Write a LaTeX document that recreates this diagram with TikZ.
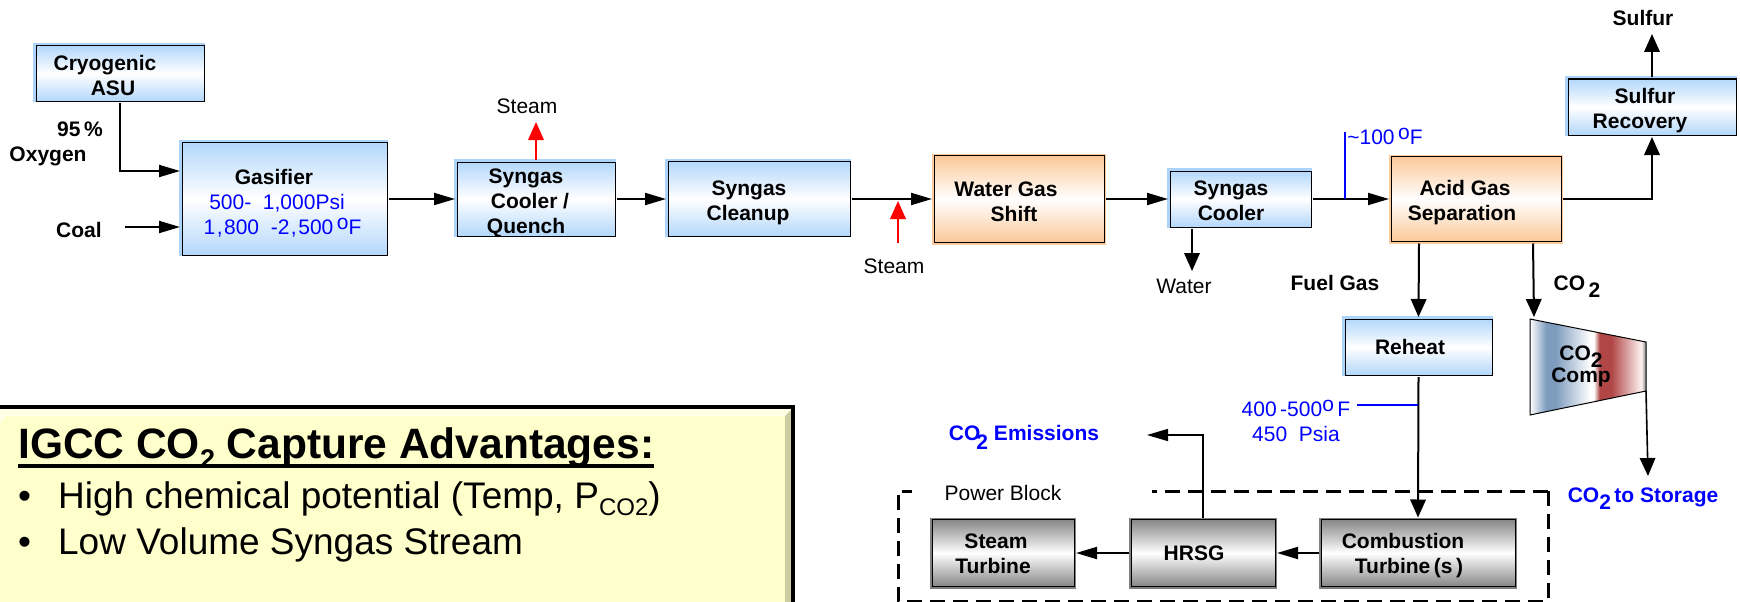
\documentclass[tikz,border=0pt]{standalone}
\usepackage{fontspec}
\setmainfont{Liberation Sans}
\usetikzlibrary{arrows.meta, shadings}
\definecolor{flowBlue}{HTML}{0000FF}
\definecolor{flowRed}{HTML}{FF0000}
\definecolor{skyTop}{HTML}{B3D7FB}
\definecolor{skyGlow}{HTML}{ACD3FA}
\definecolor{peachTop}{HTML}{FBC898}
\definecolor{peachGlow}{HTML}{FBCB9E}
\definecolor{steelTop}{HTML}{868686}
\definecolor{steelGlow}{HTML}{808080}
\definecolor{noteFace}{HTML}{FFFFCC}
\definecolor{noteLight}{HTML}{FFFFE6}
\definecolor{noteDark}{HTML}{CCCCA3}
\definecolor{compSteel}{HTML}{7E9CBE}
\definecolor{compRed}{HTML}{B04646}
\pgfdeclarehorizontalshading{compShade}{100bp}{color(0bp)=(white); color(25bp)=(white); color(32bp)=(compSteel); color(36bp)=(compSteel); color(51bp)=(white); color(52.5bp)=(white); color(55bp)=(compRed); color(60bp)=(compRed); color(73bp)=(red!5!white); color(75bp)=(gray); color(100bp)=(gray)}
\newcommand{\degO}{\raisebox{5pt}{o}}
\newcommand{\lowTwo}[1]{\raisebox{-#1pt}{2}}
\newcommand{\padTop}[1]{\rule{0pt}{#1pt}}
\newcommand{\thickUl}[1]{\setbox0\hbox{#1}\rlap{\rule[-10pt]{\wd0}{4.5pt}}\box0}

\begin{document}
\begin{tikzpicture}[
    x=1pt, y=-1pt,
    every node/.style={font=\fontsize{21}{25}\selectfont, inner sep=0pt},
    boxBase/.style={draw=black, line width=1pt, font=\fontsize{21}{25}\selectfont\bfseries, align=center, outer sep=2pt},
    skyBox/.style={boxBase, top color=skyTop, bottom color=skyTop, middle color=white, preaction={draw=skyGlow, line width=3.5pt, transform canvas={shift={(-1pt,1pt)}}}},
    peachBox/.style={boxBase, top color=peachTop, bottom color=peachTop, middle color=white, preaction={draw=peachGlow, line width=4pt}},
    steelBox/.style={boxBase, top color=steelTop, bottom color=steelTop, middle color=white, preaction={draw=steelGlow, line width=4pt}},
    lbl/.style={font=\fontsize{21}{25}\selectfont\bfseries, align=center},
    plain/.style={align=center},
    temp/.style={text=flowBlue, align=center},
    tempBold/.style={lbl, text=flowBlue},
    flow/.style={->, line width=2pt, >={Triangle[length=21pt, width=12pt]}},
    flowV/.style={->, line width=2pt, >={Triangle[length=18pt, width=15.5pt]}},
    thin flow/.style={flowV, line width=1.6pt},
    steamFlow/.style={flowV, draw=flowRed, fill=flowRed},
    tap/.style={draw=flowBlue, line width=2pt},
    blockEdge/.style={dashed, dash pattern=on 15pt off 8pt, line width=3pt},
    noteHead/.style={font=\fontsize{42.5}{50}\selectfont\bfseries, anchor=west},
    noteItem/.style={font=\fontsize{37}{44}\selectfont, anchor=west},
]
\useasboundingbox (0,0) rectangle (1740,602);

% Top row
\node[skyBox, minimum width=168pt, minimum height=55pt] (asu) at (120,73.5) {\padTop{19}\hspace*{-30pt}Cryogenic\\ \hspace*{-14pt}ASU};
\node[skyBox, minimum width=205pt, minimum height=113pt] (gasifier) at (284.5,199) {\padTop{23}\hspace*{-21pt}Gasifier\\ \hspace*{-15pt}\textcolor{flowBlue}{\mdseries 500-\ \ 1,000Psi}\\ \hspace*{-4pt}\textcolor{flowBlue}{\mdseries 1\kern1.5pt,\kern1.5pt800\ \ -2\kern1.5pt,\kern1.5pt500\,\degO F}};
\node[skyBox, text depth=0pt, minimum width=158pt, minimum height=74pt] (coolA) at (536,199) {\padTop{18}\hspace*{-20pt}Syngas\\ \hspace*{-12pt}Cooler /\\ \hspace*{-20pt}Quench};
\node[skyBox, minimum width=182pt, minimum height=75pt] (cleanup) at (759,199) {\padTop{23}\hspace*{-20pt}Syngas\\ \hspace*{-22pt}Cleanup};
\node[peachBox, minimum width=170pt, minimum height=87pt] (shift) at (1019,199) {\padTop{21}\hspace*{-26pt}Water Gas\\ \hspace*{-10pt}Shift};
\node[skyBox, minimum width=141pt, minimum height=56pt] (coolB) at (1240.5,199) {\padTop{19}\hspace*{-19pt}Syngas\\ \hspace*{-19pt}Cooler};
\node[peachBox, minimum width=170pt, minimum height=85pt] (acid) at (1476,199) {\padTop{23}\hspace*{-22pt}Acid Gas\\ \hspace*{-28pt}Separation};
\node[skyBox, minimum width=168pt, minimum height=56pt] (sulfurRec) at (1652,107) {\padTop{23}\hspace*{-14pt}Sulfur\\ \hspace*{-24pt}Recovery};
\node[skyBox, minimum width=147pt, minimum height=56pt] (reheat) at (1418.5,347) {\hspace*{-17pt}Reheat};

% Power block
\node[steelBox, minimum width=194pt, minimum height=67pt] (combTurb) at (1418,553) {\padTop{21}\hspace*{-30pt}Combustion\\ \hspace*{-18pt}Turbine\,(s\,)};
\node[steelBox, minimum width=144pt, minimum height=67pt] (hrsg) at (1203,553) {\hspace*{-18pt}HRSG};
\node[steelBox, minimum width=142pt, minimum height=67pt] (steamTurb) at (1003,553) {\padTop{17}\hspace*{-14pt}Steam\\ \hspace*{-20pt}Turbine};
\draw[blockEdge] (1548,491) -- (1548,601) -- (898,601) -- (898,491) -- (912,491);
\draw[blockEdge] (1548,491) -- (1152,491);
\node[plain] (powerLbl) at (1003,493) {Power Block};

% Compressor
\draw[shading=compShade, draw=black, line width=1pt] (1530,319) -- (1646,342) -- (1646,391) -- (1530,415) -- cycle;
\coordinate (compIn) at (1534,317);
\coordinate (compOut) at (1646,391);
\node[lbl] (compLbl) at (1581,366) {CO\lowTwo{7}\\[-3pt]Comp};

% Labels
\node[lbl] (oxyPct) at (80,129) {95\,\%};
\node[lbl] (oxyLbl) at (48,156) {Oxygen};
\node[lbl] (coalLbl) at (79,230) {Coal};
\node[plain] (steamA) at (527,106) {Steam};
\node[plain] (steamB) at (894,266) {Steam};
\node[plain] (waterLbl) at (1184,286) {Water};
\node[temp] (tempA) at (1385,136) {\textasciitilde100\,\degO F};
\node[lbl] (sulfurLbl) at (1643,18) {Sulfur};
\node[lbl] (fuelLbl) at (1335,283) {Fuel Gas};
\node[lbl] (co2Lbl) at (1577,287) {CO\,\lowTwo{7}};
\node[temp] (tempB) at (1296,421) {400\,-500\degO\,F\\ 450\ \ Psia};
\node[tempBold] (storeLbl) at (1643,499) {CO\lowTwo{7}\,to Storage};
\node[tempBold] (emitLbl) at (1024,437) {CO\hspace{-4pt}\lowTwo{9}\ Emissions};

% Note box
\node[fill=noteFace, minimum width=793pt, minimum height=195pt, anchor=north west] (noteBox) at (0,407) {};
\fill[noteLight] (0,408) -- (793,408) -- (785,416) -- (6,416) -- (0,424) -- cycle;
\fill[noteDark] (793,408) -- (793,602) -- (785,602) -- (785,416) -- cycle;
\draw[line width=4pt] (0,406.5) -- (793,406.5) -- (793,602);
\node[noteHead] (noteTitle) at (18,448) {\thickUl{IGCC CO\raisebox{-10pt}{\fontsize{27}{27}\selectfont 2}\ Capture Advantages:}};
\node[noteItem] (noteA) at (18,499) {\makebox[40pt][l]{•}High chemical potential (Temp, P\raisebox{-7pt}{\fontsize{24}{24}\selectfont CO2})};
\node[noteItem] (noteB) at (18,545) {\makebox[40pt][l]{•}Low Volume Syngas Stream};

% Free ends
\coordinate (coalIn) at (125,227);
\coordinate (steamOutA) at (536,122);
\coordinate (steamInB) at (898,243);
\coordinate (steamTipB) at (898,201);
\coordinate (waterOut) at (1192,271);
\coordinate (tapTop) at (1345,132);
\coordinate (tapFoot) at (1345,199);
\coordinate (sulfurOut) at (1652,34);
\coordinate (tapEnd) at (1357,405);
\coordinate (tapLine) at (1418,405);
\coordinate (storeOut) at (1648,476);
\coordinate (emitOut) at (1147,435);

% Connections
\draw[flow] (asu.south) |- ([yshift=28pt]gasifier.west);
\draw[flow] (coalIn) -- ([yshift=-28pt]gasifier.west);
\draw[flow] (gasifier.east) -- (coolA.west);
\draw[steamFlow] (coolA.north) -- (steamOutA);
\draw[flow] (coolA.east) -- (cleanup.west);
\draw[flow] (cleanup.east) -- (shift.west);
\draw[steamFlow] (steamInB) -- (steamTipB);
\draw[flow] (shift.east) -- (coolB.west);
\draw[flow] (coolB.east) -- (acid.west);
\draw[tap] (tapFoot) -- (tapTop);
\draw[flowV] ([xshift=-48.5pt]coolB.south) -- (waterOut);
\draw[flowV] (acid.east) -| (sulfurRec.south);
\draw[flowV] (sulfurRec.north) -- (sulfurOut);
\draw[flowV] ([xshift=-57pt]acid.south) -- (reheat.north);
\draw[flowV] ([xshift=57pt]acid.south) -- (compIn);
\draw[thin flow] (compOut) -- (storeOut);
\draw[flowV] (reheat.south) -- (combTurb.north);
\draw[tap] (tapEnd) -- (tapLine);
\draw[flow] (combTurb.west) -- (hrsg.east);
\draw[flow] (hrsg.west) -- (steamTurb.east);
\draw[flow, line width=1.6pt] (hrsg.north) |- (emitOut);
\end{tikzpicture}
\end{document}
